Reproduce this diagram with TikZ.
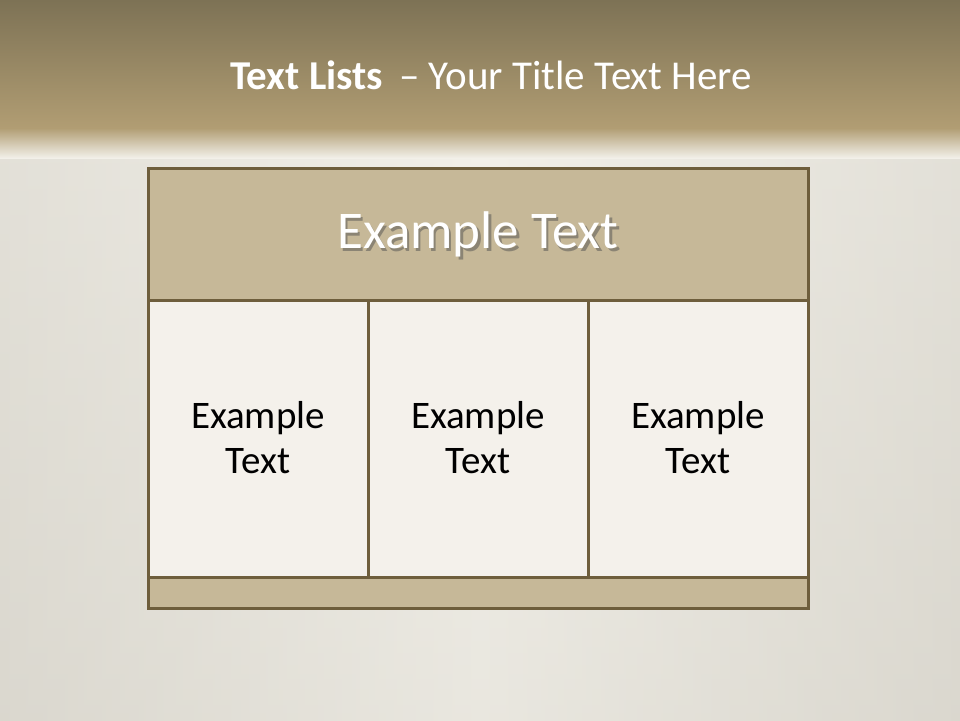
\documentclass[tikz,border=0pt]{standalone}
\usepackage{fontspec}
\setmainfont{Carlito}
\usetikzlibrary{positioning,calc,backgrounds}
\definecolor{frame}   {HTML}{6E5E3C}
\definecolor{headbg}  {HTML}{C6B898}
\definecolor{cellbg}  {HTML}{F4F1EB}
\definecolor{bandtop} {HTML}{7D7255}
\definecolor{bandbot} {HTML}{B19D73}
\definecolor{paper}   {HTML}{F2F0E9}
\definecolor{paperrim}{HTML}{D9D6CD}
\definecolor{shade}   {HTML}{5A4F38}
\tikzset{
  cell/.style   ={draw=frame, fill=cellbg, line width=3pt},
  head/.style   ={draw=frame, fill=headbg, line width=3pt},
  celltxt/.style={font=\fontsize{39}{45}\selectfont, text=black, align=center},
  headtxt/.style={font=\fontsize{53}{58}\selectfont, text=white},
  title/.style  ={font=\fontsize{41}{46}\selectfont, text=white},
}
\newcommand{\shadowed}[1]{\rlap{\hspace{2.5pt}\raisebox{-2.5pt}{\textcolor{shade!70}{#1}}}#1}

\begin{document}
\begin{tikzpicture}[x=1pt,y=-1pt]
  \useasboundingbox (0,0) rectangle (960,720);
  % background paper
  \shade[top color=paper, bottom color=paperrim!85!paper] (0,150) rectangle (960,720);
  \shade[left color=paperrim, right color=paperrim, middle color=paper, opacity=0.6]
    (0,150) rectangle (960,720);
  \shade[top color=bandtop, bottom color=bandbot] (0,0) rectangle (960,128);
  \shade[top color=bandbot, bottom color=paper] (0,128) rectangle (960,158);

  % title
  \node[title] (ttl) at (491,75) {\textbf{Text Lists} \,– Your Title Text Here};

  % table
  \draw[head] (148,168) rectangle (808,300);
  \draw[cell] (148,300) rectangle (368,577);
  \draw[cell] (368,300) rectangle (588,577);
  \draw[cell] (588,300) rectangle (808,577);
  \draw[head] (148,577) rectangle (808,608);

  \node[headtxt] (hd) at (478,236) {\shadowed{Example Text}};

  \node[celltxt] (c1) at (258,438) {Example\\Text};
  \node[celltxt] (c2) at (478,438) {Example\\Text};
  \node[celltxt] (c3) at (698,438) {Example\\Text};
\end{tikzpicture}
\end{document}
